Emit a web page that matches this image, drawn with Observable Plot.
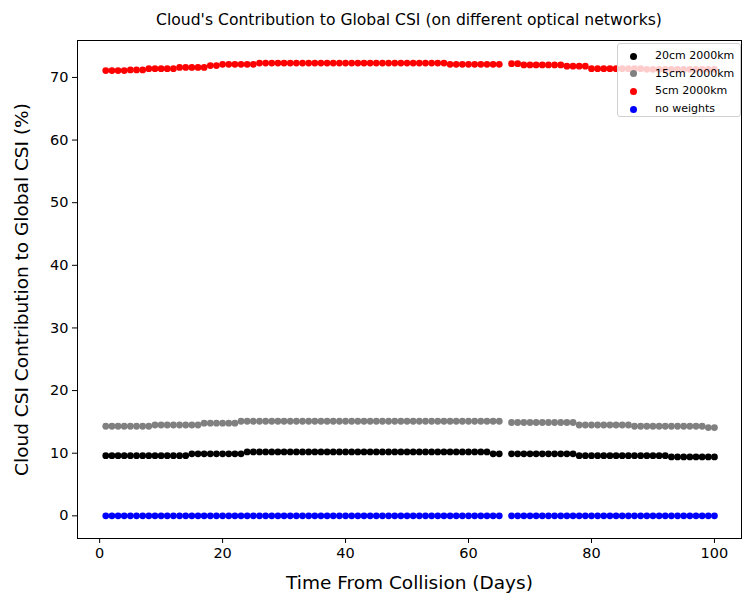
<!DOCTYPE html>
<html>
<head>
<meta charset="utf-8">
<script src="https://cdn.jsdelivr.net/npm/d3@7"></script>
<script src="https://cdn.jsdelivr.net/npm/@observablehq/plot@0.6"></script>
<style>
  html, body { margin: 0; padding: 0; background: #fff; }
  #wrap { position: relative; width: 743px; height: 601px; font-family: "DejaVu Sans", sans-serif; }
  #title { position: absolute; left: 77px; width: 664px; top: 11px; text-align: center; font-size: 15.6px; color: #000; }
  #chart { position: absolute; left: 0; top: 32px; }
  #legend { position: absolute; left: 617px; top: 43px; width: 122px; height: 72px; border: 1px solid #d0d0d0; border-radius: 3px; background: rgba(255,255,255,0.8); font-size: 11px; }
  .row { position: absolute; left: 0; height: 14px; line-height: 14px; white-space: nowrap; }
  .sw { position: absolute; left: 12px; top: 3.5px; width: 7px; height: 7px; border-radius: 50%; }
  .lb { position: absolute; left: 37px; top: 0; }
</style>
</head>
<body>
<div id="wrap">
  <div id="title">Cloud's Contribution to Global CSI (on different optical networks)</div>
  <div id="chart"></div>
  <div id="legend"></div>
</div>
<script>
const days = [
  1,2,3,4,5,6,7,8,9,10,
  11,12,13,14,15,16,17,18,19,20,
  21,22,23,24,25,26,27,28,29,30,
  31,32,33,34,35,36,37,38,39,40,
  41,42,43,44,45,46,47,48,49,50,
  51,52,53,54,55,56,57,58,59,60,
  61,62,63,64,65,67,68,69,70,
  71,72,73,74,75,76,77,78,79,80,
  81,82,83,84,85,86,87,88,89,90,
  91,92,93,94,95,96,97,98,99,100
];
const seriesNames = ["20cm 2000km", "15cm 2000km", "5cm 2000km", "no weights"];
const seriesColors = ["#000000", "#808080", "#ff0000", "#0000ff"];
const black20 = [
  9.6,9.6,9.6,9.6,9.6,9.6,9.6,9.6,9.6,9.6,
  9.6,9.6,9.6,9.6,9.9,9.9,9.9,9.9,9.9,9.9,
  9.9,9.9,9.9,10.2,10.2,10.2,10.2,10.2,10.2,10.2,
  10.2,10.2,10.2,10.2,10.2,10.2,10.2,10.2,10.2,10.2,
  10.2,10.2,10.2,10.2,10.2,10.2,10.2,10.2,10.2,10.2,
  10.2,10.2,10.2,10.2,10.2,10.2,10.2,10.2,10.2,10.2,
  10.2,10.2,10.2,9.9,9.9,9.9,9.9,9.9,9.9,
  9.9,9.9,9.9,9.9,9.9,9.9,9.9,9.6,9.6,9.6,
  9.6,9.6,9.6,9.6,9.6,9.6,9.6,9.6,9.6,9.6,
  9.6,9.6,9.4,9.4,9.4,9.4,9.4,9.4,9.4,9.4
];
const gray15 = [
  14.3,14.3,14.3,14.3,14.3,14.3,14.3,14.3,14.5,14.5,
  14.5,14.5,14.5,14.5,14.5,14.5,14.8,14.8,14.8,14.8,
  14.8,14.8,15.1,15.1,15.1,15.1,15.1,15.1,15.1,15.1,
  15.1,15.1,15.1,15.1,15.1,15.1,15.1,15.1,15.1,15.1,
  15.1,15.1,15.1,15.1,15.1,15.1,15.1,15.1,15.1,15.1,
  15.1,15.1,15.1,15.1,15.1,15.1,15.1,15.1,15.1,15.1,
  15.1,15.1,15.1,15.1,15.1,14.9,14.9,14.9,14.9,
  14.9,14.9,14.9,14.9,14.9,14.9,14.9,14.5,14.5,14.5,
  14.5,14.5,14.5,14.5,14.5,14.5,14.3,14.3,14.3,14.3,
  14.3,14.3,14.3,14.3,14.3,14.3,14.3,14.3,14.1,14.1
];
const red5 = [
  71.1,71.1,71.1,71.1,71.2,71.2,71.2,71.4,71.4,71.4,
  71.4,71.4,71.6,71.6,71.6,71.6,71.6,71.9,71.9,72.1,
  72.1,72.1,72.1,72.1,72.1,72.3,72.3,72.3,72.3,72.3,
  72.3,72.3,72.3,72.3,72.3,72.3,72.3,72.3,72.3,72.3,
  72.3,72.3,72.3,72.3,72.3,72.3,72.3,72.3,72.3,72.3,
  72.3,72.3,72.3,72.3,72.3,72.3,72.1,72.1,72.1,72.1,
  72.1,72.1,72.1,72.1,72.1,72.2,72.2,72.0,72.0,
  72.0,72.0,72.0,72.0,72.0,71.8,71.8,71.8,71.8,71.4,
  71.4,71.4,71.4,71.4,71.4,71.4,71.4,71.4,71.3,71.3,
  71.3,71.3,71.3,71.3,71.3,71.3,71.3,71.3,71.3,71.3
];
const blueNone = [
  0,0,0,0,0,0,0,0,0,0,
  0,0,0,0,0,0,0,0,0,0,
  0,0,0,0,0,0,0,0,0,0,
  0,0,0,0,0,0,0,0,0,0,
  0,0,0,0,0,0,0,0,0,0,
  0,0,0,0,0,0,0,0,0,0,
  0,0,0,0,0,0,0,0,0,
  0,0,0,0,0,0,0,0,0,0,
  0,0,0,0,0,0,0,0,0,0,
  0,0,0,0,0,0,0,0,0,0
];
const xTicks = [0, 20, 40, 60, 80, 100];
const yTicks = [0, 10, 20, 30, 40, 50, 60, 70];
const xLabel = "Time From Collision (Days)";
const yLabel = "Cloud CSI Contribution to Global CSI (%)";

const seriesValues = [black20, gray15, red5, blueNone];
const data = [];
seriesValues.forEach((vals, s) => {
  vals.forEach((v, i) => data.push({day: days[i], value: v, series: seriesNames[s]}));
});

const chart = Plot.plot({
  width: 743,
  height: 569,
  marginLeft: 77,
  marginRight: 2,
  marginTop: 8,
  marginBottom: 63,
  style: {fontFamily: "DejaVu Sans, sans-serif", fontSize: "14px", color: "#000", background: "transparent"},
  x: {domain: [-3.6, 104.4]},
  y: {domain: [-3.62, 75.9]},
  color: {domain: seriesNames, range: seriesColors},
  marks: [
    Plot.frame({stroke: "#000", strokeWidth: 1}),
    Plot.axisX({ticks: xTicks, tickSize: 5, tickPadding: 4, fontSize: 14.5, label: null}),
    Plot.axisY({ticks: yTicks, tickSize: 5, tickPadding: 4, fontSize: 14.5, label: null}),
    Plot.text([xLabel], {text: d => d, frameAnchor: "bottom", textAnchor: "middle", lineAnchor: "middle", dy: 45, fontSize: 18.5, fill: "#000"}),
    Plot.text([yLabel], {text: d => d, frameAnchor: "left", textAnchor: "middle", lineAnchor: "middle", rotate: -90, dx: -55, fontSize: 18.5, fill: "#000"}),
    Plot.dot(data, {x: "day", y: "value", fill: "series", r: 3.4, stroke: null})
  ]
});
document.getElementById("chart").appendChild(chart);

const legend = document.getElementById("legend");
seriesNames.forEach((name, i) => {
  const row = document.createElement("div");
  row.className = "row";
  row.style.top = (5 + i * 17.7) + "px";
  row.style.width = "100%";
  const sw = document.createElement("div");
  sw.className = "sw";
  sw.style.background = seriesColors[i];
  const lb = document.createElement("div");
  lb.className = "lb";
  lb.textContent = name;
  row.appendChild(sw);
  row.appendChild(lb);
  legend.appendChild(row);
});
</script>
</body>
</html>
